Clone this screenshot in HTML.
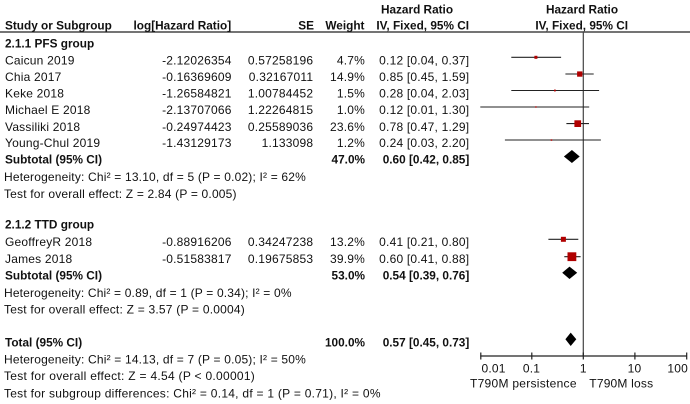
<!DOCTYPE html>
<html><head><meta charset="utf-8"><style>
html,body{margin:0;padding:0;background:#fff;}
svg{display:block;}
text{font-family:"Liberation Sans",Arial,sans-serif;font-size:12px;fill:#111;letter-spacing:0.2px;}
.b{font-weight:bold;letter-spacing:0;font-size:11.8px;}
</style></head><body>
<svg width="690" height="404" viewBox="0 0 690 404" xmlns="http://www.w3.org/2000/svg">
<rect width="690" height="404" fill="#fff"/>
<!-- headers -->
<text class="b" x="417" y="13.3" text-anchor="middle">Hazard Ratio</text>
<text class="b" x="582" y="13.3" text-anchor="middle">Hazard Ratio</text>
<text class="b" x="5" y="29.3">Study or Subgroup</text>
<text class="b" x="133.5" y="29.3">log[Hazard Ratio]</text>
<text class="b" x="314" y="29.3" text-anchor="end">SE</text>
<text class="b" x="364.5" y="29.3" text-anchor="end">Weight</text>
<text class="b" x="422.7" y="29.3" text-anchor="middle">IV, Fixed, 95% CI</text>
<text class="b" x="581.7" y="29.3" text-anchor="middle">IV, Fixed, 95% CI</text>
<line x1="0" y1="32" x2="690" y2="32" stroke="#222" stroke-width="1.2"/>

<!-- PFS group -->
<text class="b" x="5" y="47.5">2.1.1 PFS group</text>

<text x="5" y="64.5">Caicun 2019</text>
<text x="231.7" y="64.5" text-anchor="end">-2.12026354</text>
<text x="313.3" y="64.5" text-anchor="end">0.57258196</text>
<text x="365" y="64.5" text-anchor="end">4.7%</text>
<text x="469.3" y="64.5" text-anchor="end">0.12 [0.04, 0.37]</text>

<text x="5" y="81.2">Chia 2017</text>
<text x="231.7" y="81.2" text-anchor="end">-0.16369609</text>
<text x="313.3" y="81.2" text-anchor="end">0.32167011</text>
<text x="365" y="81.2" text-anchor="end">14.9%</text>
<text x="469.3" y="81.2" text-anchor="end">0.85 [0.45, 1.59]</text>

<text x="5" y="97.7">Keke 2018</text>
<text x="231.7" y="97.7" text-anchor="end">-1.26584821</text>
<text x="313.3" y="97.7" text-anchor="end">1.00784452</text>
<text x="365" y="97.7" text-anchor="end">1.5%</text>
<text x="469.3" y="97.7" text-anchor="end">0.28 [0.04, 2.03]</text>

<text x="5" y="114.2">Michael E 2018</text>
<text x="231.7" y="114.2" text-anchor="end">-2.13707066</text>
<text x="313.3" y="114.2" text-anchor="end">1.22264815</text>
<text x="365" y="114.2" text-anchor="end">1.0%</text>
<text x="469.3" y="114.2" text-anchor="end">0.12 [0.01, 1.30]</text>

<text x="5" y="130.8">Vassiliki 2018</text>
<text x="231.7" y="130.8" text-anchor="end">-0.24974423</text>
<text x="313.3" y="130.8" text-anchor="end">0.25589036</text>
<text x="365" y="130.8" text-anchor="end">23.6%</text>
<text x="469.3" y="130.8" text-anchor="end">0.78 [0.47, 1.29]</text>

<text x="5" y="147.2">Young-Chul 2019</text>
<text x="231.7" y="147.2" text-anchor="end">-1.43129173</text>
<text x="313.3" y="147.2" text-anchor="end">1.133098</text>
<text x="365" y="147.2" text-anchor="end">1.2%</text>
<text x="469.3" y="147.2" text-anchor="end">0.24 [0.03, 2.20]</text>

<text class="b" x="5" y="163.5">Subtotal (95% CI)</text>
<text class="b" x="365" y="163.5" text-anchor="end">47.0%</text>
<text class="b" x="469.3" y="163.5" text-anchor="end">0.60 [0.42, 0.85]</text>

<text x="4" y="181" textLength="302" lengthAdjust="spacing">Heterogeneity: Chi² = 13.10, df = 5 (P = 0.02); I² = 62%</text>
<text x="4" y="198" textLength="232.7" lengthAdjust="spacing">Test for overall effect: Z = 2.84 (P = 0.005)</text>

<!-- TTD group -->
<text class="b" x="5" y="228.5">2.1.2 TTD group</text>

<text x="5" y="246.2">GeoffreyR 2018</text>
<text x="231.7" y="246.2" text-anchor="end">-0.88916206</text>
<text x="313.3" y="246.2" text-anchor="end">0.34247238</text>
<text x="365" y="246.2" text-anchor="end">13.2%</text>
<text x="469.3" y="246.2" text-anchor="end">0.41 [0.21, 0.80]</text>

<text x="5" y="262.8">James 2018</text>
<text x="231.7" y="262.8" text-anchor="end">-0.51583817</text>
<text x="313.3" y="262.8" text-anchor="end">0.19675853</text>
<text x="365" y="262.8" text-anchor="end">39.9%</text>
<text x="469.3" y="262.8" text-anchor="end">0.60 [0.41, 0.88]</text>

<text class="b" x="5" y="279.3">Subtotal (95% CI)</text>
<text class="b" x="365" y="279.3" text-anchor="end">53.0%</text>
<text class="b" x="469.3" y="279.3" text-anchor="end">0.54 [0.39, 0.76]</text>

<text x="4" y="297" textLength="287.7" lengthAdjust="spacing">Heterogeneity: Chi² = 0.89, df = 1 (P = 0.34); I² = 0%</text>
<text x="4" y="313.5" textLength="241" lengthAdjust="spacing">Test for overall effect: Z = 3.57 (P = 0.0004)</text>

<!-- Total -->
<text class="b" x="5" y="346.5">Total (95% CI)</text>
<text class="b" x="365" y="346.5" text-anchor="end">100.0%</text>
<text class="b" x="469.3" y="346.5" text-anchor="end">0.57 [0.45, 0.73]</text>

<text x="4" y="363.3" textLength="302" lengthAdjust="spacing">Heterogeneity: Chi² = 14.13, df = 7 (P = 0.05); I² = 50%</text>
<text x="4" y="380" textLength="251" lengthAdjust="spacing">Test for overall effect: Z = 4.54 (P &lt; 0.00001)</text>
<text x="4" y="397.7" textLength="376.7" lengthAdjust="spacing">Test for subgroup differences: Chi² = 0.14, df = 1 (P = 0.71), I² = 0%</text>

<!-- forest plot -->
<line x1="583.3" y1="32" x2="583.3" y2="356" stroke="#444" stroke-width="1.2"/>

<g stroke="#222" stroke-width="1.1">
<line x1="511.3" y1="57.3" x2="561.1" y2="57.3"/>
<line x1="565.4" y1="74" x2="593.7" y2="74"/>
<line x1="511.3" y1="90.5" x2="599.1" y2="90.5"/>
<line x1="480.3" y1="107" x2="589.2" y2="107"/>
<line x1="566.4" y1="123.6" x2="589.0" y2="123.6"/>
<line x1="504.9" y1="140" x2="600.9" y2="140"/>
<line x1="548.4" y1="239.3" x2="578.3" y2="239.3"/>
<line x1="564.3" y1="256.7" x2="580.6" y2="256.7"/>
</g>
<g fill="#b00000">
<rect x="534.4" y="55.8" width="3" height="3"/>
<rect x="577.1" y="71.4" width="5.3" height="5.3"/>
<rect x="554" y="89.6" width="1.8" height="1.8"/>
<rect x="535.2" y="106.3" width="1.4" height="1.4"/>
<rect x="574.4" y="120.3" width="6.7" height="6.7"/>
<rect x="550.7" y="139.3" width="1.5" height="1.5"/>
<rect x="560.9" y="236.8" width="5" height="5"/>
<rect x="567.5" y="252.3" width="8.8" height="8.8"/>
</g>
<g fill="#000">
<polygon points="563.9,156.5 571.9,150 579.7,156.5 571.9,163"/>
<polygon points="562.2,272.8 569.5,266.6 577.2,272.8 569.5,279"/>
<polygon points="565.4,339.3 570.7,332.6 576.3,339.3 570.7,346"/>
</g>

<!-- axis -->
<g stroke="#222" stroke-width="1.2">
<line x1="480.3" y1="356" x2="687" y2="356"/>
<line x1="480.8" y1="352.5" x2="480.8" y2="359.5"/>
<line x1="531.8" y1="352.5" x2="531.8" y2="359.5"/>
<line x1="583.3" y1="352.5" x2="583.3" y2="359.5"/>
<line x1="634.9" y1="352.5" x2="634.9" y2="359.5"/>
<line x1="686.7" y1="352.5" x2="686.7" y2="359.5"/>
</g>
<text x="481.5" y="372.3">0.01</text>
<text x="531.5" y="372.3" text-anchor="middle">0.1</text>
<text x="583.3" y="372.3" text-anchor="middle">1</text>
<text x="634.5" y="372.3" text-anchor="middle">10</text>
<text x="688" y="372.3" text-anchor="end">100</text>
<text x="470" y="387.3" textLength="106.7" lengthAdjust="spacing">T790M persistence</text>
<text x="589.3" y="387.3" textLength="64" lengthAdjust="spacing">T790M loss</text>
</svg>
</body></html>
